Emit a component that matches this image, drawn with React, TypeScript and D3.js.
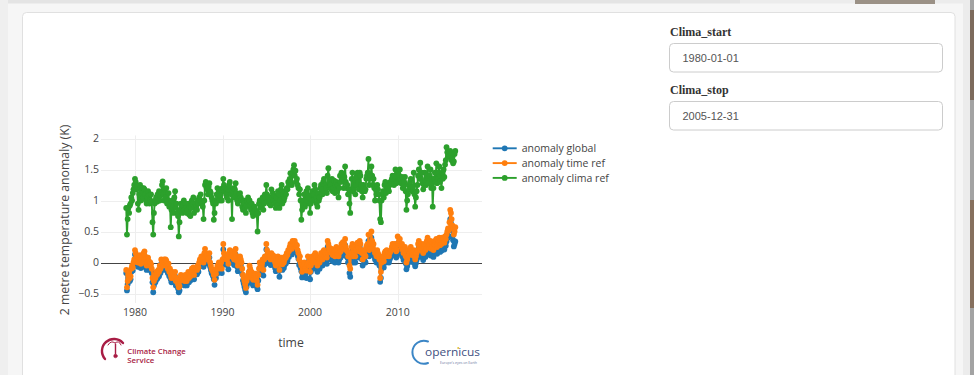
import React from "react";
import * as d3 from "d3";

// Monthly series start in January 1979
const firstMonth = new Date(1979, 0, 1);

// 2 m temperature anomaly (K), global reference
const anomalyGlobal: number[] = [
  /*1979*/ -0.17, -0.45, -0.35, -0.25, -0.2, -0.3, -0.27, -0.15, -0.1, -0.13, -0.05, 0.0,
  /*1980*/ 0.13, 0.08, -0.02, 0.03, -0.07, -0.02, 0.01, 0.05, -0.09, -0.02, 0.03, -0.07,
  /*1981*/ 0.08, 0.11, 0.03, -0.02, -0.12, -0.07, 0.01, -0.05, -0.12, -0.07, -0.1, -0.17,
  /*1982*/ -0.32, -0.48, -0.37, -0.27, -0.32, -0.22, -0.27, -0.25, -0.19, -0.22, -0.12, -0.17,
  /*1983*/ -0.02, -0.04, -0.07, -0.12, -0.02, -0.07, -0.02, -0.04, -0.12, -0.17, -0.09, -0.22,
  /*1984*/ -0.17, -0.27, -0.32, -0.22, -0.27, -0.32, -0.29, -0.22, -0.37, -0.32, -0.35, -0.42,
  /*1985*/ -0.48, -0.45, -0.37, -0.27, -0.32, -0.35, -0.29, -0.32, -0.37, -0.27, -0.32, -0.37,
  /*1986*/ -0.27, -0.22, -0.32, -0.25, -0.29, -0.22, -0.17, -0.22, -0.15, -0.27, -0.19, -0.17,
  /*1987*/ -0.17, -0.19, -0.12, -0.15, -0.07, -0.02, -0.05, 0.03, 0.01, -0.02, -0.07, 0.08,
  /*1988*/ 0.15, 0.08, 0.03, 0.05, -0.02, 0.01, 0.08, -0.07, -0.12, -0.17, -0.19, -0.22,
  /*1989*/ -0.27, -0.36, -0.22, -0.25, -0.17, -0.12, -0.17, -0.07, -0.15, -0.12, -0.07, -0.17,
  /*1990*/ -0.04, 0.21, 0.06, 0.01, 0.03, -0.01, -0.04, 0.01, -0.11, 0.06, 0.11, 0.01,
  /*1991*/ 0.01, 0.09, 0.03, -0.01, -0.04, 0.06, 0.13, 0.01, -0.07, -0.14, -0.04, -0.01,
  /*1992*/ 0.01, -0.04, -0.09, -0.19, -0.29, -0.34, -0.39, -0.44, -0.48, -0.39, -0.34, -0.29,
  /*1993*/ -0.24, -0.14, -0.19, -0.29, -0.24, -0.34, -0.37, -0.29, -0.31, -0.27, -0.34, -0.39,
  /*1994*/ -0.43, -0.29, -0.19, -0.09, -0.14, -0.17, -0.09, -0.04, -0.21, -0.04, 0.01, -0.01,
  /*1995*/ 0.21, 0.11, 0.03, 0.06, -0.01, 0.01, -0.04, 0.06, -0.01, 0.03, -0.04, 0.01,
  /*1996*/ -0.09, -0.14, -0.04, -0.11, 0.01, -0.04, -0.23, -0.09, -0.04, -0.01, -0.12, -0.04,
  /*1997*/ -0.09, -0.04, 0.01, -0.01, 0.06, 0.03, 0.11, 0.09, 0.16, 0.21, 0.19, 0.13,
  /*1998*/ 0.26, 0.24, 0.21, 0.26, 0.21, 0.16, 0.19, 0.11, 0.06, -0.04, 0.01, -0.09,
  /*1999*/ -0.14, -0.24, -0.19, -0.14, -0.09, -0.19, -0.17, -0.25, -0.12, 0.01, -0.09, -0.14,
  /*2000*/ -0.27, -0.15, -0.05, 0.0, -0.1, -0.05, 0.02, 0.05, 0.0, -0.1, -0.15, -0.02,
  /*2001*/ -0.05, -0.1, 0.0, 0.05, 0.02, -0.05, 0.08, 0.1, 0.0, 0.05, 0.02, -0.02,
  /*2002*/ 0.25, 0.2, 0.15, 0.08, 0.1, 0.05, 0.12, 0.02, 0.05, 0.1, 0.0, 0.08,
  /*2003*/ 0.15, 0.05, 0.1, 0.0, 0.05, 0.12, 0.08, 0.2, 0.15, 0.23, 0.12, 0.2,
  /*2004*/ 0.28, 0.15, 0.1, 0.08, 0.0, 0.05, -0.17, -0.23, 0.05, 0.15, 0.2, 0.0,
  /*2005*/ 0.05, 0.15, 0.0, 0.1, 0.18, 0.22, 0.15, 0.08, 0.25, 0.2, 0.1, 0.05,
  /*2006*/ -0.05, 0.1, 0.08, 0.02, 0.0, 0.15, 0.18, 0.2, 0.35, 0.1, 0.15, 0.2,
  /*2007*/ 0.4, 0.25, 0.15, 0.2, 0.1, 0.05, 0.08, 0.0, 0.1, 0.05, 0.02, -0.05,
  /*2008*/ -0.31, -0.25, -0.1, -0.05, 0.0, -0.08, 0.05, 0.08, 0.0, 0.1, 0.02, 0.05,
  /*2009*/ 0.0, 0.05, 0.08, 0.1, 0.15, 0.2, 0.18, 0.12, 0.2, 0.15, 0.08, 0.1,
  /*2010*/ 0.31, 0.19, 0.24, 0.27, 0.17, 0.14, 0.19, 0.09, 0.04, 0.07, 0.14, -0.01,
  /*2011*/ -0.11, -0.06, -0.01, 0.09, 0.04, 0.11, 0.14, 0.07, 0.01, 0.04, 0.09, -0.01,
  /*2012*/ -0.06, -0.01, 0.04, 0.09, 0.19, 0.24, 0.14, 0.09, 0.17, 0.19, 0.11, 0.04,
  /*2013*/ 0.14, 0.19, 0.09, 0.11, 0.24, 0.29, 0.17, 0.14, 0.19, 0.24, 0.11, 0.19,
  /*2014*/ 0.14, 0.09, 0.19, 0.24, 0.17, 0.27, 0.14, 0.19, 0.24, 0.29, 0.17, 0.24,
  /*2015*/ 0.19, 0.29, 0.24, 0.27, 0.21, 0.31, 0.27, 0.34, 0.39, 0.44, 0.41, 0.54,
  /*2016*/ 0.7, 0.64, 0.52, 0.42, 0.36, 0.26, 0.3, 0.34,
];

// 2 m temperature anomaly (K) against the time reference
const anomalyTimeRef: number[] = [
  /*1979*/ -0.12, -0.4, -0.3, -0.2, -0.15, -0.25, -0.22, -0.1, -0.05, -0.08, 0.0, 0.05,
  /*1980*/ 0.2, 0.15, 0.05, 0.1, 0.0, 0.05, 0.08, 0.12, -0.02, 0.05, 0.1, 0.0,
  /*1981*/ 0.15, 0.18, 0.1, 0.05, -0.05, 0.0, 0.08, 0.02, -0.05, 0.0, -0.03, -0.1,
  /*1982*/ -0.25, -0.4, -0.3, -0.2, -0.25, -0.15, -0.2, -0.18, -0.12, -0.15, -0.05, -0.1,
  /*1983*/ 0.05, 0.03, 0.0, -0.05, 0.05, 0.0, 0.05, 0.03, -0.05, -0.1, -0.02, -0.15,
  /*1984*/ -0.1, -0.2, -0.25, -0.15, -0.2, -0.25, -0.22, -0.15, -0.3, -0.25, -0.28, -0.35,
  /*1985*/ -0.4, -0.38, -0.3, -0.2, -0.25, -0.28, -0.22, -0.25, -0.3, -0.2, -0.25, -0.3,
  /*1986*/ -0.2, -0.15, -0.25, -0.18, -0.22, -0.15, -0.1, -0.15, -0.08, -0.2, -0.12, -0.1,
  /*1987*/ -0.1, -0.12, -0.05, -0.08, 0.0, 0.05, 0.02, 0.1, 0.08, 0.05, 0.0, 0.15,
  /*1988*/ 0.22, 0.15, 0.1, 0.12, 0.05, 0.08, 0.15, 0.0, -0.05, -0.1, -0.12, -0.15,
  /*1989*/ -0.2, -0.28, -0.15, -0.18, -0.1, -0.05, -0.1, 0.0, -0.08, -0.05, 0.0, -0.1,
  /*1990*/ 0.05, 0.3, 0.15, 0.1, 0.12, 0.08, 0.05, 0.1, -0.02, 0.15, 0.2, 0.1,
  /*1991*/ 0.1, 0.18, 0.12, 0.08, 0.05, 0.15, 0.22, 0.1, 0.02, -0.05, 0.05, 0.08,
  /*1992*/ 0.1, 0.05, 0.0, -0.1, -0.2, -0.25, -0.3, -0.35, -0.41, -0.3, -0.25, -0.2,
  /*1993*/ -0.15, -0.05, -0.1, -0.2, -0.15, -0.25, -0.28, -0.2, -0.22, -0.18, -0.25, -0.3,
  /*1994*/ -0.36, -0.2, -0.1, 0.0, -0.05, -0.08, 0.0, 0.05, -0.12, 0.05, 0.1, 0.08,
  /*1995*/ 0.3, 0.2, 0.12, 0.15, 0.08, 0.1, 0.05, 0.15, 0.08, 0.12, 0.05, 0.1,
  /*1996*/ 0.0, -0.05, 0.05, -0.02, 0.1, 0.05, -0.12, 0.0, 0.05, 0.08, -0.03, 0.05,
  /*1997*/ 0.0, 0.05, 0.1, 0.08, 0.15, 0.12, 0.2, 0.18, 0.25, 0.3, 0.28, 0.22,
  /*1998*/ 0.35, 0.33, 0.3, 0.35, 0.3, 0.25, 0.28, 0.2, 0.15, 0.05, 0.1, 0.0,
  /*1999*/ -0.05, -0.15, -0.1, -0.05, 0.0, -0.1, -0.08, -0.13, -0.03, 0.1, 0.0, -0.05,
  /*2000*/ -0.15, -0.05, 0.05, 0.1, 0.0, 0.05, 0.12, 0.15, 0.1, 0.0, -0.05, 0.08,
  /*2001*/ 0.05, 0.0, 0.1, 0.15, 0.12, 0.05, 0.18, 0.2, 0.1, 0.15, 0.12, 0.08,
  /*2002*/ 0.35, 0.3, 0.25, 0.18, 0.2, 0.15, 0.22, 0.12, 0.15, 0.2, 0.1, 0.18,
  /*2003*/ 0.25, 0.15, 0.2, 0.1, 0.15, 0.22, 0.18, 0.3, 0.25, 0.33, 0.22, 0.3,
  /*2004*/ 0.38, 0.25, 0.2, 0.18, 0.1, 0.15, -0.05, -0.1, 0.15, 0.25, 0.3, 0.1,
  /*2005*/ 0.15, 0.25, 0.1, 0.2, 0.28, 0.32, 0.25, 0.18, 0.35, 0.3, 0.2, 0.15,
  /*2006*/ 0.05, 0.2, 0.18, 0.12, 0.1, 0.25, 0.28, 0.3, 0.45, 0.2, 0.25, 0.3,
  /*2007*/ 0.5, 0.35, 0.25, 0.3, 0.2, 0.15, 0.18, 0.1, 0.2, 0.15, 0.12, 0.05,
  /*2008*/ -0.25, -0.15, 0.0, 0.05, 0.1, 0.02, 0.15, 0.18, 0.1, 0.2, 0.12, 0.15,
  /*2009*/ 0.1, 0.15, 0.18, 0.2, 0.25, 0.3, 0.28, 0.22, 0.3, 0.25, 0.18, 0.2,
  /*2010*/ 0.42, 0.3, 0.35, 0.38, 0.28, 0.25, 0.3, 0.2, 0.15, 0.18, 0.25, 0.1,
  /*2011*/ 0.0, 0.05, 0.1, 0.2, 0.15, 0.22, 0.25, 0.18, 0.12, 0.15, 0.2, 0.1,
  /*2012*/ 0.05, 0.1, 0.15, 0.2, 0.3, 0.35, 0.25, 0.2, 0.28, 0.3, 0.22, 0.15,
  /*2013*/ 0.25, 0.3, 0.2, 0.22, 0.35, 0.4, 0.28, 0.25, 0.3, 0.35, 0.22, 0.3,
  /*2014*/ 0.25, 0.2, 0.3, 0.35, 0.28, 0.38, 0.25, 0.3, 0.35, 0.4, 0.28, 0.35,
  /*2015*/ 0.3, 0.4, 0.35, 0.38, 0.32, 0.42, 0.38, 0.45, 0.5, 0.55, 0.52, 0.65,
  /*2016*/ 0.85, 0.8, 0.7, 0.6, 0.55, 0.45, 0.5, 0.57,
];

// 2 m temperature anomaly (K) against the climatology reference
const anomalyClimaRef: number[] = [
  /*1979*/ 0.88, 0.45, 0.7, 0.88, 0.8, 0.92, 0.95, 1.05, 1.0, 1.12, 1.18, 1.25,
  /*1980*/ 1.35, 1.3, 1.18, 1.22, 0.95, 0.85, 1.1, 1.25, 1.0, 1.15, 1.2, 1.05,
  /*1981*/ 1.2, 1.18, 1.1, 1.0, 0.95, 1.05, 1.15, 1.08, 0.95, 1.0, 1.1, 0.98,
  /*1982*/ 0.65, 0.45, 0.8, 0.95, 1.0, 1.05, 0.98, 1.1, 1.0, 1.15, 1.0, 1.08,
  /*1983*/ 1.12, 1.25, 1.31, 1.1, 1.0, 1.18, 1.05, 1.2, 0.95, 1.0, 1.12, 0.9,
  /*1984*/ 0.95, 0.57, 0.85, 1.0, 0.9, 0.8, 1.05, 1.15, 0.88, 0.95, 0.8, 0.75,
  /*1985*/ 0.42, 0.65, 0.85, 0.95, 0.9, 0.8, 0.92, 1.0, 0.85, 0.95, 0.88, 0.8,
  /*1986*/ 0.85, 0.95, 0.78, 0.9, 0.75, 0.88, 1.0, 0.95, 1.05, 0.8, 0.9, 0.95,
  /*1987*/ 0.9, 0.85, 1.0, 0.95, 1.05, 1.0, 1.1, 0.98, 0.95, 0.9, 0.7, 1.0,
  /*1988*/ 1.25, 1.3, 1.2, 1.18, 1.1, 1.22, 1.28, 1.15, 1.12, 1.05, 1.0, 0.95,
  /*1989*/ 0.69, 0.8, 1.0, 0.95, 1.1, 1.2, 1.05, 1.15, 1.0, 1.08, 1.18, 1.0,
  /*1990*/ 1.2, 1.35, 1.25, 1.15, 1.2, 1.1, 1.05, 1.18, 1.0, 1.25, 1.3, 1.15,
  /*1991*/ 1.1, 0.7, 1.15, 1.2, 1.05, 1.18, 1.28, 1.12, 1.0, 0.95, 1.08, 1.1,
  /*1992*/ 1.12, 1.05, 1.0, 0.9, 0.85, 1.0, 0.95, 0.88, 0.8, 0.92, 1.0, 1.05,
  /*1993*/ 0.95, 1.0, 0.9, 0.85, 0.95, 0.8, 0.75, 0.88, 0.9, 0.85, 0.8, 0.78,
  /*1994*/ 0.5, 0.8, 0.95, 1.0, 0.92, 0.88, 1.0, 1.05, 0.85, 0.95, 1.1, 1.05,
  /*1995*/ 1.25, 1.1, 1.0, 1.05, 0.95, 1.0, 0.92, 1.18, 1.05, 1.12, 1.0, 1.08,
  /*1996*/ 0.95, 0.88, 1.05, 0.92, 1.15, 1.1, 0.88, 1.0, 1.18, 1.25, 0.95, 1.1,
  /*1997*/ 1.0, 1.05, 1.15, 1.1, 1.2, 1.18, 1.3, 1.25, 1.35, 1.44, 1.3, 1.25,
  /*1998*/ 1.45, 1.5, 1.57, 1.4, 1.48, 1.3, 1.35, 1.25, 1.2, 1.1, 1.18, 1.0,
  /*1999*/ 0.69, 0.85, 0.95, 1.0, 1.1, 0.9, 0.95, 1.15, 1.0, 1.2, 1.05, 0.95,
  /*2000*/ 0.8, 0.95, 1.1, 1.15, 1.0, 1.1, 1.25, 1.18, 1.05, 0.95, 0.9, 1.12,
  /*2001*/ 1.0, 1.05, 1.2, 1.25, 1.18, 1.1, 1.3, 1.35, 1.15, 1.25, 1.2, 1.12,
  /*2002*/ 1.4, 1.52, 1.3, 1.2, 1.25, 1.18, 1.35, 1.15, 1.2, 1.32, 1.12, 1.25,
  /*2003*/ 1.3, 1.15, 1.25, 1.05, 1.2, 1.4, 1.3, 1.45, 1.35, 1.4, 1.2, 1.38,
  /*2004*/ 1.55, 1.3, 1.2, 1.25, 1.1, 1.18, 0.95, 0.8, 1.18, 1.35, 1.45, 1.15,
  /*2005*/ 1.2, 1.35, 1.1, 1.25, 1.4, 1.45, 1.3, 1.18, 1.45, 1.4, 1.25, 1.15,
  /*2006*/ 1.05, 1.25, 1.2, 1.15, 1.18, 1.35, 1.4, 1.45, 1.67, 1.25, 1.35, 1.4,
  /*2007*/ 1.55, 1.4, 1.25, 1.35, 1.2, 1.0, 1.18, 1.1, 1.25, 1.18, 1.1, 1.0,
  /*2008*/ 0.7, 0.65, 1.0, 1.1, 1.15, 1.05, 1.25, 1.3, 1.12, 1.28, 1.18, 1.2,
  /*2009*/ 1.15, 1.25, 1.3, 1.28, 1.35, 1.4, 1.38, 1.25, 1.4, 1.5, 1.28, 1.3,
  /*2010*/ 1.45, 1.3, 1.4, 1.5, 1.35, 1.28, 1.38, 1.2, 1.25, 1.3, 1.38, 1.15,
  /*2011*/ 0.85, 1.0, 1.1, 1.25, 1.18, 1.3, 1.35, 1.2, 1.15, 1.22, 1.45, 1.1,
  /*2012*/ 0.9, 1.05, 1.15, 1.25, 1.4, 1.5, 1.35, 1.61, 1.35, 1.45, 1.28, 1.18,
  /*2013*/ 1.25, 1.45, 1.3, 1.25, 1.4, 1.55, 1.35, 1.28, 1.4, 1.5, 1.2, 1.35,
  /*2014*/ 0.9, 1.2, 1.35, 1.45, 1.3, 1.6, 1.28, 1.35, 1.45, 1.55, 1.3, 1.4,
  /*2015*/ 1.2, 1.45, 1.35, 1.5, 1.38, 1.58, 1.65, 1.86, 1.78, 1.7, 1.75, 1.72,
  /*2016*/ 1.8, 1.75, 1.65, 1.7, 1.6, 1.63, 1.75, 1.8,
];

const seriesNames = ["anomaly global", "anomaly time ref", "anomaly clima ref"];
const seriesColors = ["#1f77b4", "#ff7f0e", "#2ca02c"];
const seriesValues = [anomalyGlobal, anomalyTimeRef, anomalyClimaRef];

const xTickYears = [1980, 1990, 2000, 2010];
const yTickValues = [-0.5, 0, 0.5, 1, 1.5, 2];

const climaFields = [
  { label: "Clima_start", value: "1980-01-01" },
  { label: "Clima_stop", value: "2005-12-31" },
];

const PLOT = { left: 101, right: 482, top: 135.4, bottom: 303 };
const FONT = "'Open Sans', 'DejaVu Sans', sans-serif";
const MARKER_R = 2.9;

export default function App() {
  const x = d3
    .scaleTime()
    .domain([new Date(1976, 1, 14), new Date(2019, 7, 19)])
    .range([PLOT.left, PLOT.right]);
  const y = d3.scaleLinear().domain([-0.653, 2.05]).range([PLOT.bottom, PLOT.top]);
  const fmt = d3.format("~g");

  const series = seriesValues.map((vals, k) => ({
    name: seriesNames[k],
    color: seriesColors[k],
    points: vals.map((v, i) => ({ date: d3.timeMonth.offset(firstMonth, i), v })),
  }));

  const line = d3
    .line<{ date: Date; v: number }>()
    .x((d) => x(d.date))
    .y((d) => y(d.v));

  return (
    <div style={{ position: "absolute", left: 0, top: 0 }}>
      <svg width={974} height={375} style={{ display: "block" }}>
        {/* page surroundings */}
        <rect x={0} y={0} width={974} height={375} fill="#f6f6f6" />
        <rect x={0} y={0} width={8} height={375} fill="#efefef" />
        <rect x={8} y={0} width={732} height={3.5} fill="#e4e4e4" />
        <rect x={740} y={0} width={234} height={3.5} fill="#ececec" />
        <rect x={855} y={0} width={80} height={4} fill="#9b9186" />
        <rect x={963} y={0} width={7} height={375} fill="#ececec" />
        <rect x={970} y={0} width={4} height={375} fill="#a3a3a3" />
        <rect x={970} y={10} width={4} height={90} fill="#7d6b5c" />
        <rect x={970} y={200} width={4} height={108} fill="#86705e" />

        {/* main panel */}
        <rect x={22.5} y={12.5} width={932.5} height={380} rx={4} fill="#ffffff" stroke="#e0e0e0" />

        {/* gridlines */}
        <g stroke="#eeeeee" strokeWidth={1}>
          {xTickYears.map((yr) => {
            const px = Math.round(x(new Date(yr, 0, 1))) + 0.5;
            return <line key={yr} x1={px} x2={px} y1={PLOT.top} y2={PLOT.bottom} />;
          })}
          {yTickValues
            .filter((v) => v !== 0)
            .map((v) => {
              const py = Math.round(y(v)) + 0.5;
              return <line key={v} x1={PLOT.left} x2={PLOT.right} y1={py} y2={py} />;
            })}
        </g>
        <line
          x1={PLOT.left}
          x2={PLOT.right}
          y1={Math.round(y(0)) + 0.5}
          y2={Math.round(y(0)) + 0.5}
          stroke="#444"
          strokeWidth={1}
        />

        {/* traces */}
        {series.map((s) => (
          <g key={s.name}>
            <path d={line(s.points) ?? ""} fill="none" stroke={s.color} strokeWidth={1.9} strokeLinejoin="round" />
            {s.points.map((p, i) => (
              <circle key={i} cx={x(p.date)} cy={y(p.v)} r={MARKER_R} fill={s.color} />
            ))}
          </g>
        ))}

        {/* axes labels */}
        <g fontFamily={FONT} fontSize={10.5} fill="#444">
          {xTickYears.map((yr) => (
            <text key={yr} x={x(new Date(yr, 0, 1))} y={316} textAnchor="middle">
              {yr}
            </text>
          ))}
          {yTickValues.map((v) => (
            <text key={v} x={99} y={y(v)} dy="0.36em" textAnchor="end">
              {fmt(v)}
            </text>
          ))}
        </g>
        <text
          transform="translate(68.5,220) rotate(-90)"
          textAnchor="middle"
          fontFamily={FONT}
          fontSize={12.25}
          fill="#444"
        >
          2 metre temperature anomaly (K)
        </text>
        <text x={291} y={347} textAnchor="middle" fontFamily={FONT} fontSize={12.25} fill="#444">
          time
        </text>

        {/* legend */}
        <g fontFamily={FONT} fontSize={10.5} fill="#444">
          {series.map((s, k) => {
            const ly = 148.3 + k * 14.8;
            return (
              <g key={s.name}>
                <line x1={492.7} x2={516.7} y1={ly} y2={ly} stroke={s.color} strokeWidth={1.9} />
                <circle cx={504.7} cy={ly} r={MARKER_R} fill={s.color} />
                <text x={521.7} y={ly} dy="0.36em">
                  {s.name}
                </text>
              </g>
            );
          })}
        </g>

        {/* Climate Change Service logo */}
        <g stroke="#a81c44" fill="none" strokeLinecap="round">
          <path d="M105,359 A10.5,10.5 0 1 1 123,343" strokeWidth={2.4} />
          <path d="M108,345 q3,-5 7,-2 q4,-3 6,2" strokeWidth={1} />
          <line x1={115.5} y1={344} x2={115.5} y2={354} strokeWidth={1.4} />
          <circle cx={115.5} cy={356} r={1.8} fill="#a81c44" strokeWidth={0.6} />
        </g>
        <g fontFamily={FONT} fontWeight={600} fontSize={7.4} fill="#a81c44">
          <text x={127.3} y={353.8} textLength={58.4} lengthAdjust="spacingAndGlyphs">
            Climate Change
          </text>
          <text x={127.3} y={362.6} textLength={27} lengthAdjust="spacingAndGlyphs">
            Service
          </text>
        </g>

        {/* Copernicus logo */}
        <path d="M428,341.5 A11.5,11.5 0 1 0 428,363" fill="none" stroke="#3b86c6" strokeWidth={2} strokeLinecap="round" />
        <text
          x={425}
          y={356}
          fontFamily={FONT}
          fontSize={11}
          fill="#41507f"
          textLength={55}
          lengthAdjust="spacingAndGlyphs"
        >
          opernicus
        </text>
        <circle cx={458.2} cy={348} r={1} fill="#e3c43a" />
        <text x={440} y={363.6} fontFamily={FONT} fontSize={3.4} fill="#6a76a0" textLength={37} lengthAdjust="spacingAndGlyphs">
          Europe's eyes on Earth
        </text>

        {/* date inputs */}
        {climaFields.map((f, k) => {
          const top = 43.5 + k * 58;
          return (
            <g key={f.label}>
              <text
                x={670}
                y={top - 7.5}
                fontFamily="'Liberation Serif', 'DejaVu Serif', serif"
                fontWeight={700}
                fontSize={12}
                fill="#333"
              >
                {f.label}
              </text>
              <rect x={669.5} y={top} width={273} height={28.5} rx={4} fill="#fff" stroke="#cccccc" />
              <text
                x={682.5}
                y={top + 14.2}
                dy="0.36em"
                fontFamily="'Liberation Sans', Arial, sans-serif"
                fontSize={11}
                fill="#555"
              >
                {f.value}
              </text>
            </g>
          );
        })}
      </svg>
    </div>
  );
}
